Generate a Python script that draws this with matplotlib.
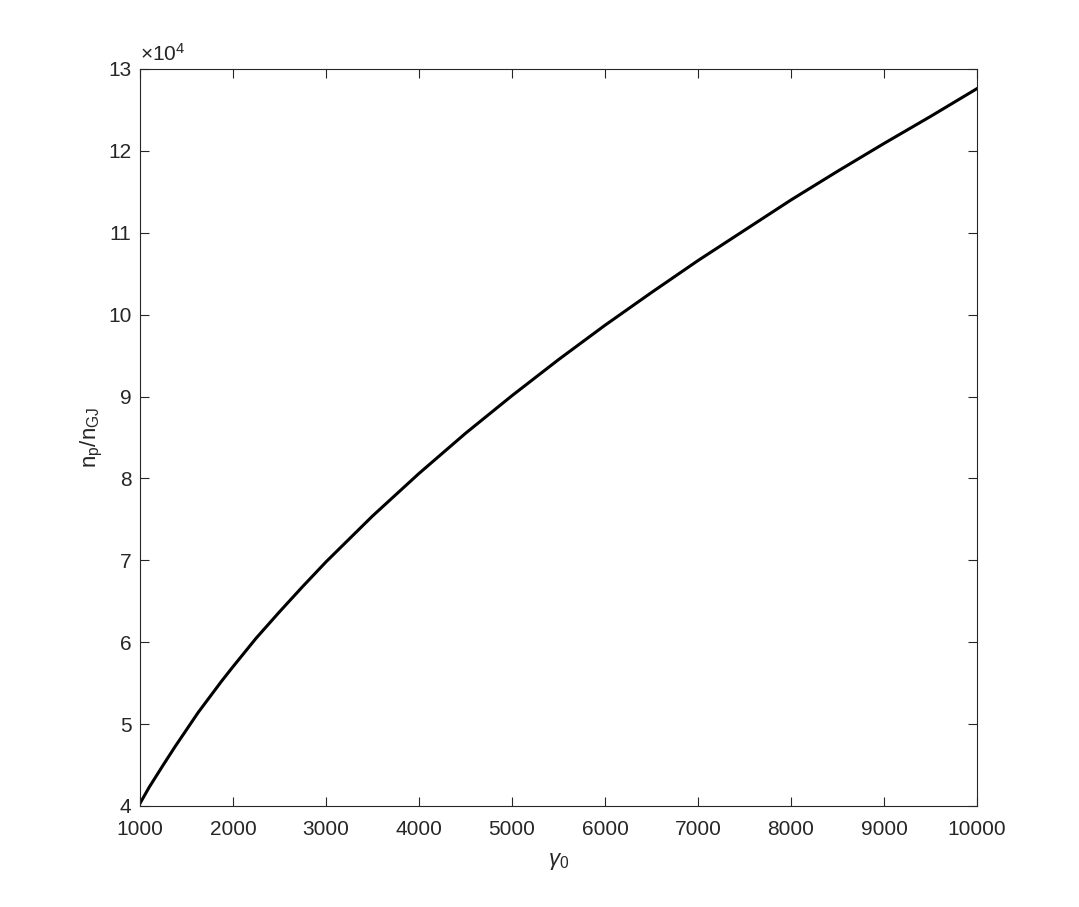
import matplotlib.pyplot as plt
import matplotlib.ticker as mticker
import numpy as np

plt.rcParams['font.family'] = ['Liberation Sans', 'DejaVu Sans']
plt.rcParams['mathtext.fontset'] = 'custom'
plt.rcParams['mathtext.rm'] = 'Liberation Sans'
plt.rcParams['mathtext.it'] = 'Liberation Sans:italic'

# values
gamma0 = [1000, 1100, 1250, 1375, 1500, 1625, 1750, 1875, 2000, 2250, 2500,
          2750, 3000, 3500, 4000, 4500, 5000, 5500, 6000, 6500, 7000, 7500,
          8000, 8500, 9000, 9500, 10000]
np_ngj = [4.03e4, 4.23e4, 4.50e4, 4.72e4, 4.93e4, 5.14e4, 5.33e4, 5.52e4,
          5.70e4, 6.05e4, 6.37e4, 6.68e4, 6.98e4, 7.54e4, 8.06e4, 8.55e4,
          9.01e4, 9.45e4, 9.87e4, 10.27e4, 10.66e4, 11.03e4, 11.40e4,
          11.75e4, 12.09e4, 12.42e4, 12.76e4]
x_ticks = np.arange(1000, 10001, 1000)
y_ticks = np.arange(4e4, 13.01e4, 1e4)

fig = plt.figure(figsize=(10.79, 9.07), dpi=100)
ax = fig.add_axes([0.1297, 0.1114, 0.7758, 0.8126])

ax.plot(gamma0, np_ngj, color='black', linewidth=2.2)

ax.set_xlim(1000, 10000)
ax.set_ylim(4e4, 13e4)
ax.set_xticks(x_ticks)
ax.set_yticks(y_ticks)
ax.yaxis.set_major_formatter(mticker.FuncFormatter(lambda v, p: f'{v / 1e4:g}'))
ax.text(0.0, 1.006, r'$\times10^{4}$', transform=ax.transAxes, fontsize=15,
        color='#262626', ha='left', va='bottom')

ax.tick_params(direction='in', length=6.5, width=0.8, colors='#262626',
               labelsize=15, top=True, right=True)
ax.tick_params(axis='x', pad=10)
ax.tick_params(axis='y', pad=6)
for s in ax.spines.values():
    s.set_color('#262626')
    s.set_linewidth(0.8)

ax.set_xlabel(r'$\gamma_0$', fontsize=16, color='#262626', labelpad=9)
ax.set_ylabel(r'n$_\mathregular{p}$/n$_\mathregular{GJ}$', fontsize=16,
              color='#262626', labelpad=2)

fig.savefig('out.png', dpi=100)
